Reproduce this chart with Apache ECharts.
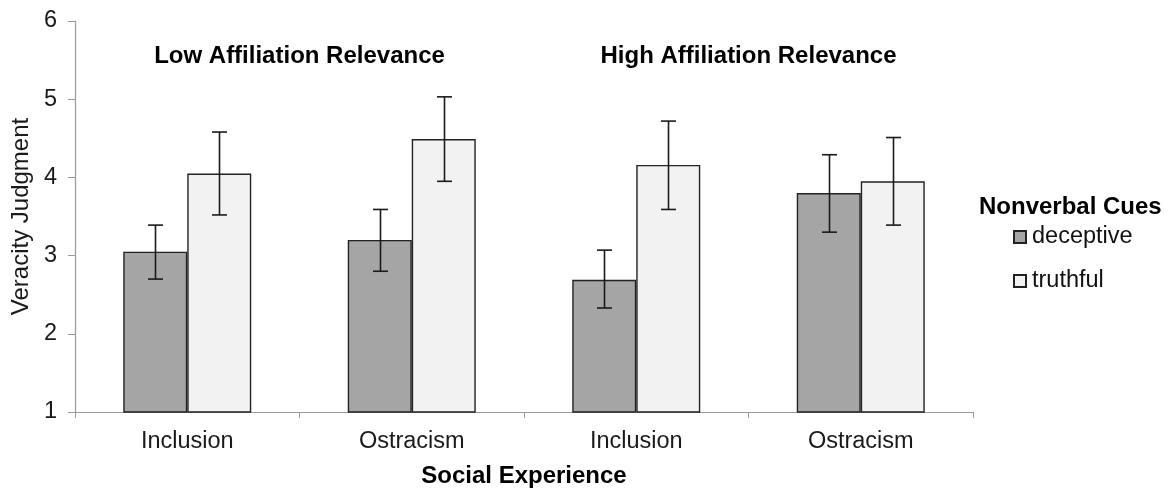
<!DOCTYPE html>
<html>
<head>
<meta charset="utf-8">
<script src="https://cdn.jsdelivr.net/npm/echarts@6/dist/echarts.min.js"></script>
<style>
html,body{margin:0;padding:0;background:#fff;}
#chart{width:1172px;height:488px;}
</style>
</head>
<body>
<div id="chart"></div>
<script>
// ---- data ----
const categories = ['Inclusion', 'Ostracism', 'Inclusion', 'Ostracism'];
const groups = ['Low Affiliation Relevance', 'High Affiliation Relevance'];
const seriesNames = ['deceptive', 'truthful'];
const deceptive = [3.05, 3.20, 2.69, 3.80];
const truthful = [4.05, 4.49, 4.16, 3.95];
const deceptiveLow = [2.70, 2.80, 2.33, 3.30];
const deceptiveHigh = [3.39, 3.59, 3.07, 4.29];
const truthfulLow = [3.52, 3.95, 3.59, 3.39];
const truthfulHigh = [4.58, 5.03, 4.72, 4.51];
const yTicks = [1, 2, 3, 4, 5, 6];

// ---- style ----
const FONT = "'Liberation Sans', Arial, sans-serif";
const BAR_W = 64;
const CAP = 15;

const chart = echarts.init(document.getElementById('chart'), null, {renderer: 'canvas'});

function errorSeries(low, high, side) {
  const data = low.map((l, i) => [i, l, high[i]]);
  return {
    type: 'custom',
    xAxisIndex: 0,
    yAxisIndex: 0,
    z: 10,
    silent: true,
    data: data,
    encode: {x: 0, y: [1, 2]},
    renderItem: function (params, api) {
      const c = api.value(0);
      const lo = api.coord([c, api.value(1)]);
      const hi = api.coord([c, api.value(2)]);
      const x = Math.round(lo[0] + side * BAR_W / 2) + 0.5;
      const y1 = hi[1], y2 = lo[1];
      const st = {stroke: '#1a1a1a', lineWidth: 1.6};
      return {
        type: 'group',
        children: [
          {type: 'line', shape: {x1: x, y1: y1, x2: x, y2: y2}, style: st},
          {type: 'line', shape: {x1: x - CAP / 2, y1: y1, x2: x + CAP / 2, y2: y1}, style: st},
          {type: 'line', shape: {x1: x - CAP / 2, y1: y2, x2: x + CAP / 2, y2: y2}, style: st}
        ]
      };
    }
  };
}

const option = {
  animation: false,
  backgroundColor: '#ffffff',
  textStyle: {fontFamily: FONT},
  title: {
    text: 'Nonverbal Cues',
    left: 979,
    top: 195,
    padding: 0,
    textStyle: {fontFamily: FONT, fontSize: 24, fontWeight: 'bold', color: '#000'}
  },
  legend: {
    orient: 'vertical',
    left: 1013,
    top: 225,
    padding: 0,
    itemWidth: 12,
    itemHeight: 12,
    itemGap: 20,
    icon: 'rect',
    data: seriesNames,
    textStyle: {fontFamily: FONT, fontSize: 23.5, color: '#111', padding: [0, 0, 0, 1]}
  },
  grid: {left: 75, right: 199, top: 21, bottom: 76, containLabel: false, outerBoundsMode: 'none'},
  xAxis: [
    {
      type: 'category',
      data: categories,
      position: 'bottom',
      name: 'Social Experience',
      nameLocation: 'middle',
      nameGap: 52,
      nameTextStyle: {fontFamily: FONT, fontSize: 24, fontWeight: 'bold', color: '#000'},
      axisLine: {show: true, lineStyle: {color: '#9a9a9a', width: 1.2}},
      axisTick: {show: true, length: 6, lineStyle: {color: '#9a9a9a'}},
      axisLabel: {fontFamily: FONT, fontSize: 23.5, color: '#1a1a1a', margin: 18},
      splitLine: {show: false}
    },
    {
      type: 'category',
      data: groups,
      position: 'top',
      axisLine: {show: false},
      axisTick: {show: false},
      axisLabel: {inside: true, margin: 23, fontFamily: FONT, fontSize: 24, fontWeight: 'bold', color: '#000'},
      splitLine: {show: false}
    }
  ],
  yAxis: {
    type: 'value',
    min: yTicks[0],
    max: yTicks[yTicks.length - 1],
    interval: 1,
    name: 'Veracity Judgment',
    nameLocation: 'middle',
    nameGap: 42,
    nameTextStyle: {fontFamily: FONT, fontSize: 24, color: '#1a1a1a'},
    axisLine: {show: true, lineStyle: {color: '#9a9a9a', width: 1.2}},
    axisTick: {show: true, length: 7, lineStyle: {color: '#9a9a9a'}},
    axisLabel: {fontFamily: FONT, fontSize: 23.5, color: '#1a1a1a', margin: 18},
    splitLine: {show: false}
  },
  series: [
    {
      name: seriesNames[0],
      type: 'bar',
      data: deceptive,
      barWidth: BAR_W,
      barGap: '0%',
      itemStyle: {color: '#a5a5a5', borderColor: '#222', borderWidth: 1.4}
    },
    {
      name: seriesNames[1],
      type: 'bar',
      data: truthful,
      barWidth: BAR_W,
      barGap: '0%',
      itemStyle: {color: '#f2f2f2', borderColor: '#222', borderWidth: 1.4}
    },
    errorSeries(deceptiveLow, deceptiveHigh, -1),
    errorSeries(truthfulLow, truthfulHigh, 1)
  ]
};

chart.setOption(option);
</script>
</body>
</html>
